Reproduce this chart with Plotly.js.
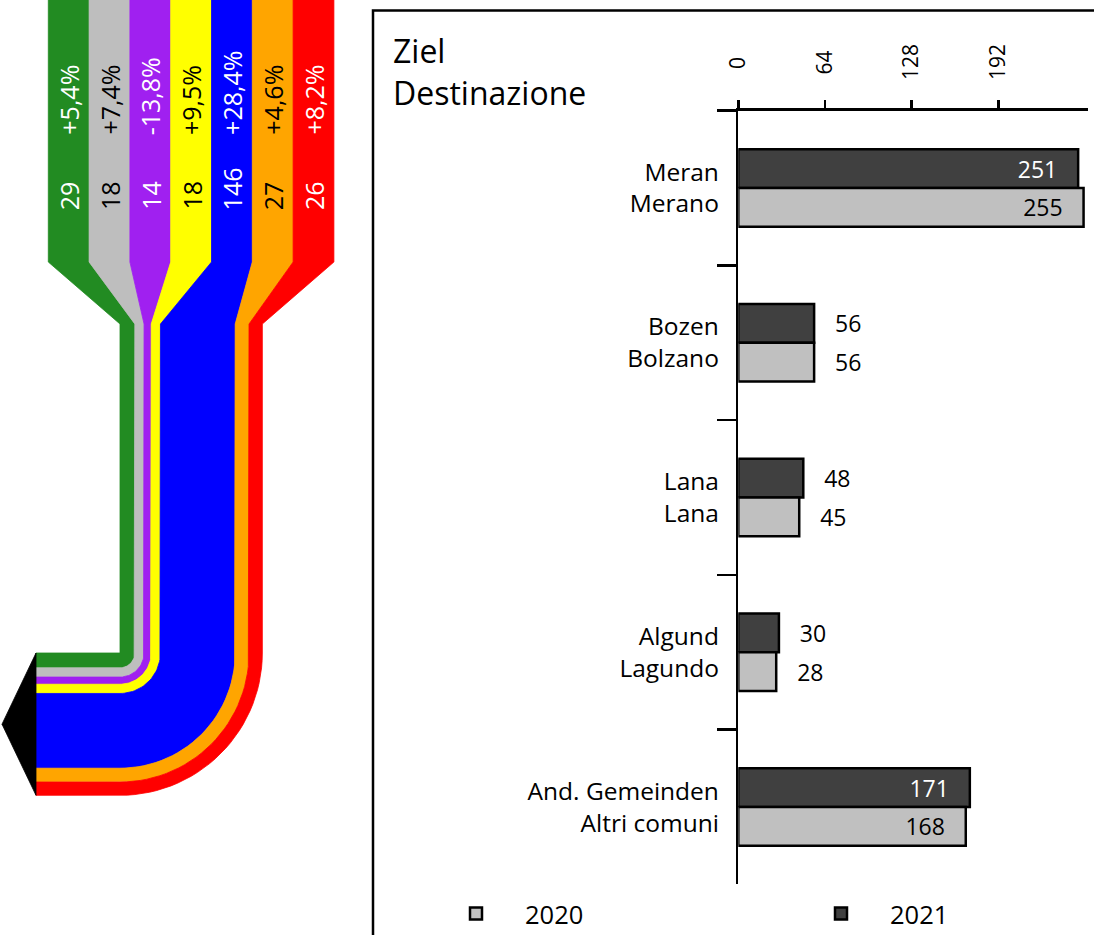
<!DOCTYPE html>
<html><head><meta charset="utf-8">
<script src="https://cdn.plot.ly/plotly-3.0.1.min.js"></script>
<style>html,body{margin:0;padding:0;background:#fff}#chart{width:1094px;height:935px}</style>
</head><body><div id="chart"></div>
<script>
// ---- Bar chart data ----
const categories = ['Meran<br>Merano', 'Bozen<br>Bolzano', 'Lana<br>Lana', 'Algund<br>Lagundo', 'And. Gemeinden<br>Altri comuni'];
const values2020 = [255, 56, 45, 28, 168];
const values2021 = [251, 56, 48, 30, 171];
const seriesNames = ['2020', '2021'];
const xTickVals = [0, 64, 128, 192];
const titleText = 'Ziel<br>Destinazione';

// ---- Flow (left diagram) data ----
const flowValues = [29, 18, 14, 18, 146, 27, 26];
const flowChanges = ['+5,4%', '+7,4%', '-13,8%', '+9,5%', '+28,4%', '+4,6%', '+8,2%'];
const flowColors = ['#228b22', '#bebebe', '#a020f0', '#ffff00', '#0000ff', '#ffa500', '#ff0000'];
const flowTextColors = ['#ffffff', '#000000', '#ffffff', '#000000', '#ffffff', '#000000', '#ffffff'];

// ---- Layout constants (page pixels) ----
const W = 1094, H = 935;
const FONT = 'Open Sans, Noto Sans, sans-serif';
const NB = '\u00a0';
const px = x => x / W;
const py = y => 1 - y / H;

// bar chart frame
const xPix0 = 738.3, xPerUnit = 1.354, xMax = 258;
const yTop = 110.6, yBot = 884.4;

// flow geometry
const colX0 = 48.3, colW = 40.8, colTop = -10, colBottom = 262, taperBottom = 324;
const bandX0 = 120, cornerY = 653, arrowEndX = 36, arrowTipX = 2, k = 0.512;

const traces = [];

// flow bands built from values
let cum = 0;
const total = flowValues.reduce((s, v) => s + v, 0) * k;
flowValues.forEach((v, i) => {
  const a = cum * k, b = (cum + v) * k;
  cum += v;
  const L = colX0 + colW * i, R = colX0 + colW * (i + 1);
  const xs = [], ys = [];
  const add = (x, y) => { xs.push(x); ys.push(y); };
  add(L, colTop); add(L, colBottom); add(bandX0 + a, taperBottom); add(bandX0 + a, cornerY);
  const N = 30;
  for (let j = 0; j <= N; j++) { const t = j / N * Math.PI / 2; add(bandX0 + a * Math.cos(t), cornerY + a * Math.sin(t)); }
  add(arrowEndX, cornerY + a); add(arrowEndX, cornerY + b);
  for (let j = N; j >= 0; j--) { const t = j / N * Math.PI / 2; add(bandX0 + b * Math.cos(t), cornerY + b * Math.sin(t)); }
  add(bandX0 + b, taperBottom); add(R, colBottom); add(R, colTop);
  traces.push({
    type: 'scatter', mode: 'lines', x: xs, y: ys, xaxis: 'x2', yaxis: 'y2',
    fill: 'toself', fillcolor: flowColors[i], line: {color: flowColors[i], width: 0.8},
    hoverinfo: 'skip', showlegend: false
  });
});
// arrow head
traces.push({
  type: 'scatter', mode: 'lines', xaxis: 'x2', yaxis: 'y2',
  x: [arrowEndX, arrowTipX, arrowEndX, arrowEndX],
  y: [cornerY, cornerY + total / 2, cornerY + total, cornerY],
  fill: 'toself', fillcolor: '#000000', line: {color: '#000000', width: 0.8},
  hoverinfo: 'skip', showlegend: false
});

// bars
const barColors = {'2020': '#c0c0c0', '2021': '#404040'};
const insideText = {'2020': '#000000', '2021': '#ffffff'};
function barTrace(name, vals, rank) {
  const inside = vals.map(v => v > 100);
  return {
    type: 'bar', orientation: 'h', name: name, y: categories, x: vals,
    xaxis: 'x', yaxis: 'y', legendrank: rank,
    marker: {color: barColors[name], line: {color: '#000000', width: 2.5}},
    texttemplate: inside.map(f => f ? '%{x}' + NB + NB + NB : NB + NB + NB + '%{x}'),
    textposition: inside.map(f => f ? 'inside' : 'outside'),
    insidetextanchor: 'end', constraintext: 'none', textangle: 0, cliponaxis: false,
    insidetextfont: {family: FONT, size: 23, color: insideText[name]},
    outsidetextfont: {family: FONT, size: 23, color: '#000000'},
    hoverinfo: 'x+name'
  };
}
traces.push(barTrace('2021', values2021, 2));
traces.push(barTrace('2020', values2020, 1));

// annotations
const annotations = [];
flowValues.forEach((v, i) => {
  const cx = colX0 + colW * (i + 0.5);
  annotations.push({xref: 'x2', yref: 'y2', x: cx, y: 212, text: String(v), textangle: -90,
    xanchor: 'center', yanchor: 'bottom', showarrow: false,
    font: {family: FONT, size: 25, color: flowTextColors[i]}});
  annotations.push({xref: 'x2', yref: 'y2', x: cx, y: 137, text: flowChanges[i], textangle: -90,
    xanchor: 'center', yanchor: 'bottom', showarrow: false,
    font: {family: FONT, size: 25, color: flowTextColors[i]}});
});
annotations.push({xref: 'x2', yref: 'y2', x: 391, y: 71, text: titleText, xanchor: 'left', yanchor: 'middle',
  align: 'left', showarrow: false, font: {family: FONT, size: 32, color: '#000000'}});

const nbPad = v => NB.repeat(Math.max(0, 3 - String(v).length)) + String(v);

const layout = {
  width: W, height: H, margin: {l: 0, r: 0, t: 0, b: 0, autoexpand: false},
  paper_bgcolor: '#ffffff', plot_bgcolor: 'rgba(0,0,0,0)',
  font: {family: FONT, color: '#000000'},
  barmode: 'group', bargap: 0.5, bargroupgap: 0,
  xaxis: {
    domain: [px(xPix0), px(xPix0 + xMax * xPerUnit)], range: [0, xMax], side: 'top', anchor: 'y',
    showline: true, linewidth: 2.5, linecolor: '#000000', showgrid: false, zeroline: false,
    ticks: 'outside', ticklen: 8, tickwidth: 2.5, tickcolor: '#000000',
    tickvals: xTickVals, ticktext: xTickVals.map(nbPad), tickangle: -90,
    ticklabelstandoff: 16,
    tickfont: {family: FONT, size: 21, color: '#000000'}, fixedrange: true
  },
  yaxis: {
    domain: [py(yBot), py(yTop)], type: 'category', categoryorder: 'array', categoryarray: categories,
    autorange: 'reversed', anchor: 'x', tickson: 'boundaries',
    showline: true, linewidth: 2.5, linecolor: '#000000', showgrid: false, zeroline: false,
    ticks: 'outside', ticklen: 19, tickwidth: 2.5, tickcolor: '#000000',
    ticklabelstandoff: 12,
    tickfont: {family: FONT, size: 24.5, color: '#000000'}, fixedrange: true
  },
  xaxis2: {domain: [0, 1], range: [0, W], visible: false, anchor: 'y2', fixedrange: true},
  yaxis2: {domain: [0, 1], range: [H, 0], visible: false, anchor: 'x2', fixedrange: true},
  showlegend: true,
  legend: {
    orientation: 'h', x: px(427), y: py(914), xanchor: 'left', yanchor: 'middle',
    font: {family: FONT, size: 25.5, color: '#000000'}, itemwidth: 88,
    entrywidth: 262, entrywidthmode: 'pixels', bgcolor: 'rgba(0,0,0,0)', borderwidth: 0,
    traceorder: 'normal'
  },
  shapes: [{
    type: 'rect', xref: 'x2', yref: 'y2', x0: 373, y0: 10.5, x1: W + 20, y1: H + 20,
    line: {color: '#000000', width: 2.5}, fillcolor: 'rgba(0,0,0,0)', layer: 'below'
  }],
  annotations: annotations
};

Plotly.newPlot('chart', traces, layout, {displayModeBar: false, staticPlot: true});
</script>
</body></html>
